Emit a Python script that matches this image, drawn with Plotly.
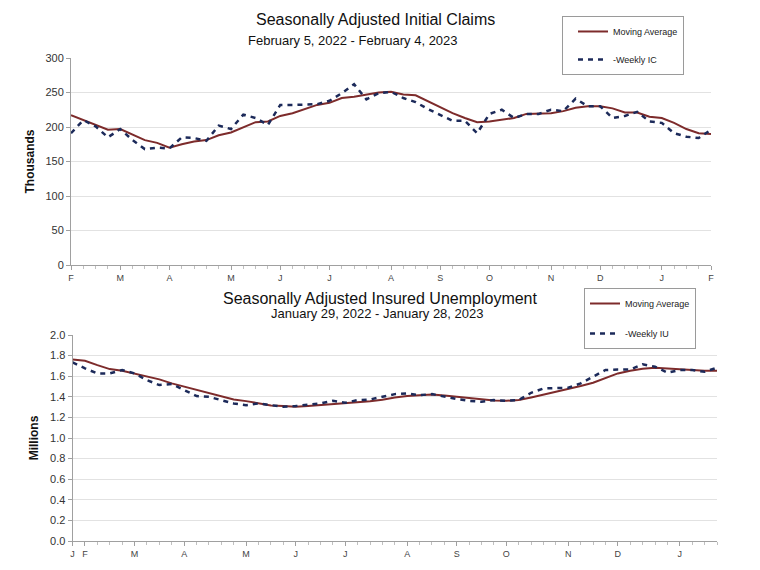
import plotly.graph_objects as go
import pandas as pd

# ---------------- data ----------------
ic_weeks = pd.date_range("2022-02-05", "2023-02-04", freq="7D")
ic_moving_avg = [217, 210, 203, 196, 197, 189, 181, 177, 170, 175, 179, 181, 188, 192,
                 200, 207, 208, 216, 220, 226, 232, 235, 242, 244, 247, 250, 251, 247,
                 246, 237, 229, 220, 213, 207, 208, 211, 213, 219, 219, 220, 223, 228,
                 230, 230, 227, 221, 221, 215, 213, 206, 197, 191, 190]
ic_weekly = [191, 210, 201, 185, 197, 181, 168, 170, 169, 185, 184, 180, 202, 197,
             218, 213, 203, 232, 232, 233, 233, 238, 249, 262, 240, 249, 251, 242,
             236, 226, 218, 209, 209, 191, 219, 225, 213, 219, 219, 225, 223, 241,
             230, 230, 213, 216, 222, 208, 206, 191, 186, 184, 196]
ic_tick_dates = ["2022-02-05", "2022-03-05", "2022-04-02", "2022-05-07", "2022-06-04",
                 "2022-07-02", "2022-08-06", "2022-09-03", "2022-10-01", "2022-11-05",
                 "2022-12-03", "2023-01-07", "2023-02-04"]
ic_tick_text = ["F", "M", "A", "M", "J", "J", "A", "S", "O", "N", "D", "J", "F"]
ic_y_ticks = [0, 50, 100, 150, 200, 250, 300]
ic_y_dark = [100, 150]

iu_weeks = pd.date_range("2022-01-29", "2023-01-28", freq="7D")
iu_moving_avg = [1.763, 1.750, 1.708, 1.669, 1.653, 1.627, 1.595, 1.569, 1.530, 1.498,
                 1.472, 1.439, 1.407, 1.374, 1.358, 1.335, 1.316, 1.310, 1.303, 1.310,
                 1.319, 1.326, 1.335, 1.345, 1.358, 1.371, 1.394, 1.407, 1.413, 1.423,
                 1.413, 1.400, 1.387, 1.374, 1.365, 1.361, 1.368, 1.394, 1.420, 1.449,
                 1.475, 1.504, 1.536, 1.585, 1.627, 1.653, 1.673, 1.682, 1.673, 1.666,
                 1.660, 1.653, 1.653]
iu_weekly = [1.734, 1.676, 1.627, 1.627, 1.660, 1.627, 1.562, 1.514, 1.524, 1.465,
             1.407, 1.400, 1.368, 1.335, 1.319, 1.335, 1.319, 1.303, 1.310, 1.326,
             1.335, 1.361, 1.342, 1.368, 1.374, 1.400, 1.426, 1.433, 1.416, 1.426,
             1.400, 1.378, 1.361, 1.352, 1.368, 1.361, 1.368, 1.439, 1.481, 1.488,
             1.488, 1.530, 1.595, 1.660, 1.666, 1.666, 1.715, 1.692, 1.634, 1.660,
             1.660, 1.643, 1.682]
iu_tick_dates = ["2022-01-29", "2022-02-05", "2022-03-05", "2022-04-02", "2022-05-07",
                 "2022-06-04", "2022-07-02", "2022-08-06", "2022-09-03", "2022-10-01",
                 "2022-11-05", "2022-12-03", "2023-01-07"]
iu_tick_text = ["J", "F", "M", "A", "M", "J", "J", "A", "S", "O", "N", "D", "J"]
iu_y_ticks = [0.0, 0.2, 0.4, 0.6, 0.8, 1.0, 1.2, 1.4, 1.6, 1.8, 2.0]
iu_y_dark = [0.4, 1.0, 1.6]

# ---------------- style ----------------
FONT = "Liberation Sans, Arial, sans-serif"
MA_COLOR = "#7d2b2b"
WK_COLOR = "#1c2a5a"
GRID_LIGHT = "#e2e2e2"
GRID_DARK = "#a8a8a8"
AXIS_COLOR = "#a0a0a0"
WEEK_MS = 7 * 24 * 3600 * 1000
W, H = 760, 570
PAGE_OFF = 8  # default page margin around the figure


def px_x(v):
    return (v - PAGE_OFF) / W


def px_y(v):
    return 1 - (v - PAGE_OFF) / H


fig = go.Figure()

fig.add_trace(go.Scatter(x=ic_weeks, y=ic_moving_avg, mode="lines", name="Moving Average",
                         line=dict(color=MA_COLOR, width=2), xaxis="x", yaxis="y",
                         legend="legend", legendgroup="a"))
fig.add_trace(go.Scatter(x=ic_weeks, y=ic_weekly, mode="lines", name="-Weekly IC",
                         line=dict(color=WK_COLOR, width=2.5, dash="5px,5px"),
                         xaxis="x", yaxis="y", legend="legend", legendgroup="b"))
fig.add_trace(go.Scatter(x=iu_weeks, y=iu_moving_avg, mode="lines", name="Moving Average",
                         line=dict(color=MA_COLOR, width=2), xaxis="x2", yaxis="y2",
                         legend="legend2", legendgroup="c"))
fig.add_trace(go.Scatter(x=iu_weeks, y=iu_weekly, mode="lines", name="-Weekly IU",
                         line=dict(color=WK_COLOR, width=2.5, dash="5px,5px"),
                         xaxis="x2", yaxis="y2", legend="legend2", legendgroup="d"))

top_x = [px_x(71), px_x(711)]
top_y = [px_y(265), px_y(58)]
bot_x = [px_x(72.6), px_x(717)]
bot_y = [px_y(541), px_y(335)]

xcommon = dict(showgrid=False, showline=True, linecolor=AXIS_COLOR, linewidth=1,
               ticks="outside", ticklen=4, tickcolor=AXIS_COLOR,
               tickfont=dict(family=FONT, size=9, color="#444"),
               minor=dict(ticks="outside", ticklen=3, dtick=WEEK_MS, tickcolor="#c0c0c0"),
               zeroline=False, fixedrange=True, automargin=False)
ycommon = dict(showline=True, linecolor=AXIS_COLOR, linewidth=1, gridcolor=GRID_LIGHT,
               gridwidth=1, ticks="outside", ticklen=4, tickcolor=AXIS_COLOR,
               tickfont=dict(family=FONT, size=11, color="#333"), zeroline=False,
               fixedrange=True, automargin=False)
overlay = dict(side="right", tickmode="array", showticklabels=False, ticks="",
               gridcolor=GRID_DARK, gridwidth=1, showline=True, linecolor="#dcdcdc",
               zeroline=False, fixedrange=True, automargin=False)

fig.update_layout(
    width=W, height=H, margin=dict(l=0, r=0, t=0, b=0, autoexpand=False),
    paper_bgcolor="white", plot_bgcolor="white",
    font=dict(family=FONT, color="#222"),
    xaxis=dict(domain=top_x, anchor="y", type="date",
               range=[ic_weeks[0], ic_weeks[-1]], tickmode="array",
               tickvals=ic_tick_dates, ticktext=ic_tick_text,
               minor_tick0=ic_weeks[0], **xcommon),
    yaxis=dict(domain=top_y, anchor="x", range=[0, 300], tickmode="array",
               tickvals=ic_y_ticks,
               title=dict(text="<b>Thousands</b>",
                          font=dict(family=FONT, size=12, color="#111"), standoff=8),
               **ycommon),
    yaxis3=dict(domain=top_y, anchor="x", overlaying="y", range=[0, 300],
                tickvals=ic_y_dark, **overlay),
    xaxis2=dict(domain=bot_x, anchor="y2", type="date",
                range=[iu_weeks[0], iu_weeks[-1]], tickmode="array",
                tickvals=iu_tick_dates, ticktext=iu_tick_text,
                minor_tick0=iu_weeks[0], **xcommon),
    yaxis2=dict(domain=bot_y, anchor="x2", range=[0, 2.0], tickmode="array",
                tickvals=iu_y_ticks, tickformat=".1f",
                title=dict(text="<b>Millions</b>",
                           font=dict(family=FONT, size=12, color="#111"), standoff=8),
                **ycommon),
    yaxis4=dict(domain=bot_y, anchor="x2", overlaying="y2", range=[0, 2.0],
                tickvals=iu_y_dark, **overlay),
    legend=dict(x=px_x(562), y=0.986, xanchor="left", yanchor="top",
                bgcolor="white", bordercolor="#9a9a9a", borderwidth=1,
                font=dict(family=FONT, size=9, color="#222"),
                tracegroupgap=9, traceorder="grouped", indentation=10,
                itemwidth=30, entrywidth=112, entrywidthmode="pixels"),
    legend2=dict(x=px_x(584), y=px_y(288), xanchor="left", yanchor="top",
                 bgcolor="white", bordercolor="#9a9a9a", borderwidth=1,
                 font=dict(family=FONT, size=9, color="#222"),
                 tracegroupgap=11, traceorder="grouped", indentation=0,
                 itemwidth=30, entrywidth=97, entrywidthmode="pixels"),
    showlegend=True,
)

fig.add_annotation(text="Seasonally Adjusted Initial Claims", x=px_x(375), y=px_y(20),
                   xref="paper", yref="paper", showarrow=False, xanchor="center",
                   yanchor="middle", font=dict(family=FONT, size=16, color="#111"))
fig.add_annotation(text="February 5, 2022 - February 4, 2023", x=px_x(353), y=px_y(41),
                   xref="paper", yref="paper", showarrow=False, xanchor="center",
                   yanchor="middle", font=dict(family=FONT, size=13, color="#111"))
fig.add_annotation(text="Seasonally Adjusted Insured Unemployment", x=px_x(380),
                   y=px_y(298), xref="paper", yref="paper", showarrow=False,
                   xanchor="center", yanchor="middle",
                   font=dict(family=FONT, size=16, color="#111"))
fig.add_annotation(text="January 29, 2022 - January 28, 2023", x=px_x(377), y=px_y(313),
                   xref="paper", yref="paper", showarrow=False, xanchor="center",
                   yanchor="middle", font=dict(family=FONT, size=13, color="#111"))

fig.write_html("out.html")
